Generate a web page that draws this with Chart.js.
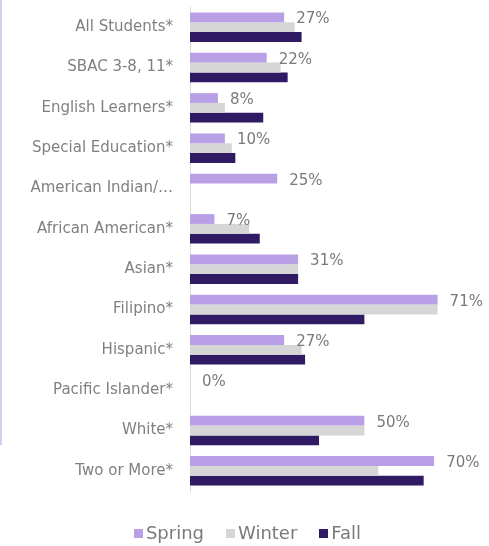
<!DOCTYPE html>
<html>
<head>
<meta charset="utf-8">
<script src="https://cdn.jsdelivr.net/npm/chart.js@4.4.1/dist/chart.umd.min.js"></script>
<style>
  html, body { margin: 0; padding: 0; background: #ffffff; }
  #wrap { position: relative; width: 489px; height: 546px; overflow: hidden; }
  #edge { position: absolute; left: 0; top: 0; width: 2px; height: 445px; background: #d9ccf2; }
  canvas { position: absolute; left: 0; top: 0; }
  #legend { position: absolute; left: 3px; top: 520px; width: 489px; text-align: center;
            font-family: 'DejaVu Sans'; font-size: 18px; color: #7a7a7a; line-height: 26px; white-space: nowrap; }
  #legend span.item { display: inline-block; margin: 0 11px; }
  #legend span.sw { display: inline-block; width: 9px; height: 9px; margin-right: 3px; vertical-align: 1px; }
</style>
</head>
<body>
<div id="wrap">
  <canvas id="c" width="489" height="546"></canvas>
  <div id="edge"></div>
  <div id="legend"></div>
</div>
<script>
const categories = [
  "All Students*", "SBAC 3-8, 11*", "English Learners*", "Special Education*",
  "American Indian/…", "African American*", "Asian*", "Filipino*",
  "Hispanic*", "Pacific Islander*", "White*", "Two or More*"
];
const seriesNames = ["Spring", "Winter", "Fall"];
const springValues = [27, 22, 8, 10, 25, 7, 31, 71, 27, 0, 50, 70];
const winterValues = [30, 26, 10, 12, null, 17, 31, 71, 32, 0, 50, 54];
const fallValues   = [32, 28, 21, 13, null, 20, 31, 50, 33, 0, 37, 67];
const colors = ["#b9a0e6", "#d6d6d6", "#2f1a63"];

const labelPlugin = {
  id: "springLabels",
  afterDatasetsDraw(chart) {
    const ctx = chart.ctx;
    const meta = chart.getDatasetMeta(0);
    ctx.save();
    ctx.font = "15px 'DejaVu Sans'";
    ctx.fillStyle = "#7a7a7a";
    ctx.textBaseline = "middle";
    ctx.textAlign = "left";
    meta.data.forEach((el, i) => {
      const v = springValues[i];
      if (v === null) return;
      const txt = v + "%";
      const w = ctx.measureText(txt).width;
      let x = el.x + 12;
      if (x + w > chart.width - 6) x = chart.width - 6 - w;
      ctx.fillText(txt, x, el.y + 2);
    });
    ctx.restore();
  }
};

const chart = new Chart(document.getElementById("c"), {
  type: "bar",
  data: {
    labels: categories,
    datasets: [
      { label: seriesNames[0], data: springValues, backgroundColor: colors[0] },
      { label: seriesNames[1], data: winterValues, backgroundColor: colors[1] },
      { label: seriesNames[2], data: fallValues, backgroundColor: colors[2] }
    ]
  },
  options: {
    indexAxis: "y",
    responsive: false,
    animation: false,
    devicePixelRatio: 1,
    datasets: { bar: { barPercentage: 1, categoryPercentage: 0.73, borderWidth: 0 } },
    layout: { autoPadding: false, padding: { top: 7, right: 20, left: 0, bottom: 55 } },
    scales: {
      x: { display: false, min: 0, max: 80 },
      y: {
        afterFit(scale) { scale.width = 190; scale.paddingTop = 0; scale.paddingBottom = 0; },
        grid: { display: false, drawTicks: false },
        border: { display: true, color: "#d9d9d9", width: 1 },
        ticks: { color: "#808080", font: { family: "DejaVu Sans", size: 15 }, padding: 17 }
      }
    },
    plugins: {
      legend: { display: false },
      tooltip: { enabled: false }
    }
  },
  plugins: [labelPlugin]
});

const legendEl = document.getElementById("legend");
chart.data.datasets.forEach(ds => {
  const item = document.createElement("span");
  item.className = "item";
  const sw = document.createElement("span");
  sw.className = "sw";
  sw.style.background = ds.backgroundColor;
  item.appendChild(sw);
  item.appendChild(document.createTextNode(ds.label));
  legendEl.appendChild(item);
});
</script>
</body>
</html>
